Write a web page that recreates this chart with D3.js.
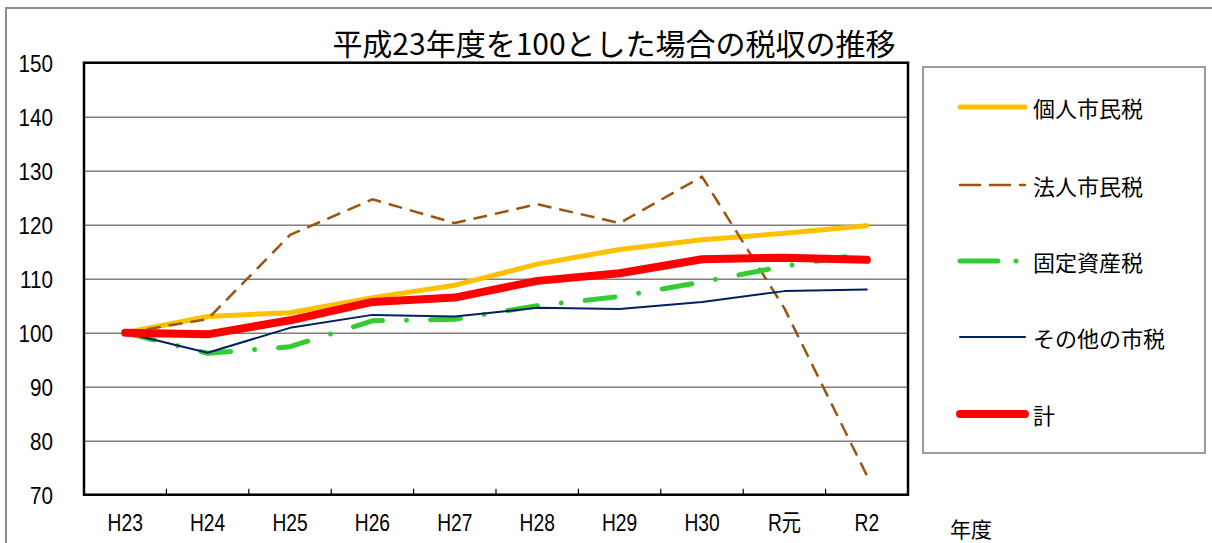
<!DOCTYPE html>
<html>
<head>
<meta charset="utf-8">
<script src="https://cdn.jsdelivr.net/npm/d3@7"></script>
<style>
  body { margin: 0; background: #fff; }
  svg { display: block; }
  .num { font-family: "Liberation Sans", "Noto Sans CJK JP", sans-serif; }
  .jp { font-family: "Noto Sans CJK JP", sans-serif; }
</style>
</head>
<body>
<div id="container"></div>
<script>
// ---------------- data ----------------
const categories = ['H23', 'H24', 'H25', 'H26', 'H27', 'H28', 'H29', 'H30', 'R元', 'R2'];
const kojin  = [100, 103.0, 103.7, 106.5, 108.8, 112.7, 115.4, 117.2, 118.4, 119.8];
const hojin  = [100, 102.5, 118.1, 124.7, 120.3, 123.8, 120.3, 128.9, 104.5, 73.6];
const kotei  = [100, 96.2, 97.4, 102.2, 102.5, 105.0, 106.7, 109.4, 112.3, 114.7];
const sonota = [100, 96.3, 100.9, 103.3, 103.0, 104.6, 104.4, 105.7, 107.7, 108.0];
const total  = [100, 99.7, 102.3, 105.7, 106.5, 109.6, 111.0, 113.6, 113.9, 113.5];
const yTicks = [70, 80, 90, 100, 110, 120, 130, 140, 150];
const seriesNames = ['個人市民税', '法人市民税', '固定資産税', 'その他の市税', '計'];

const width = 1212;
const height = 543;
const plot = { left: 84, right: 908, top: 62.7, bottom: 494.7 };

const svg = d3.select('#container').append('svg')
  .attr('width', width)
  .attr('height', height);

// outer frame (runs off the right and bottom edge)
svg.append('rect')
  .attr('x', 6).attr('y', 8)
  .attr('width', 1400).attr('height', 700)
  .attr('fill', 'none')
  .attr('stroke', '#8c8c8c')
  .attr('stroke-width', 2);

// title
svg.append('text')
  .attr('class', 'jp')
  .attr('x', 614).attr('y', 42)
  .attr('text-anchor', 'middle')
  .attr('dominant-baseline', 'central')
  .style('font-size', '30px')
  .text('平成23年度を100とした場合の税収の推移');

// ---------------- scales ----------------
const x = d3.scaleBand().domain(categories).range([plot.left, plot.right]);
const y = d3.scaleLinear().domain([70, 150]).range([plot.bottom, plot.top]);
const cx = (c) => x(c) + x.bandwidth() / 2;

// gridlines + y labels (narrowed glyphs)
const yAxis = svg.append('g')
  .attr('transform', `translate(${plot.left},0)`)
  .call(d3.axisLeft(y).tickValues(yTicks).tickSize(-(plot.right - plot.left)));
yAxis.select('.domain').remove();
yAxis.selectAll('.tick line').attr('stroke', '#7f7f7f').attr('stroke-width', 1.5);
yAxis.selectAll('.tick text')
  .attr('class', 'num')
  .attr('fill', '#000')
  .attr('x', -31 / 0.86)
  .attr('dy', '0.38em')
  .attr('transform', 'scale(0.86,1)')
  .style('font-size', '24px');

// x labels
const xAxis = svg.append('g')
  .attr('transform', `translate(0,${plot.bottom})`)
  .call(d3.axisBottom(x).tickSize(0).tickPadding(19));
xAxis.select('.domain').remove();
xAxis.selectAll('.tick text')
  .attr('class', 'num')
  .attr('fill', '#000')
  .attr('transform', 'scale(0.8,1)')
  .style('font-size', '24px');

// tick marks between categories, pointing inward
svg.append('g').selectAll('line')
  .data(categories.slice(1))
  .join('line')
  .attr('x1', (d) => x(d)).attr('x2', (d) => x(d))
  .attr('y1', plot.bottom).attr('y2', plot.bottom - 6)
  .attr('stroke', '#000')
  .attr('stroke-width', 1.2);

// plot frame
svg.append('rect')
  .attr('x', plot.left).attr('y', plot.top)
  .attr('width', plot.right - plot.left).attr('height', plot.bottom - plot.top)
  .attr('fill', 'none')
  .attr('stroke', '#000')
  .attr('stroke-width', 2.5);

// ---------------- lines ----------------
const styles = [
  { color: '#ffc000', w: 5, dash: null, cap: 'round' },
  { color: '#9c5410', w: 2.5, dash: '14 8', cap: 'butt' },
  { color: '#33cc33', w: 5, dash: '30 24 0.01 24', cap: 'round' },
  { color: '#002060', w: 2, dash: null, cap: 'round' },
  { color: '#ff0000', w: 8, dash: null, cap: 'round' }
];
const allSeries = [kojin, hojin, kotei, sonota, total];

const line = d3.line()
  .x((d, i) => cx(categories[i]))
  .y((d) => y(d));

allSeries.forEach((vals, k) => {
  const s = styles[k];
  svg.append('path')
    .datum(vals)
    .attr('d', line)
    .attr('fill', 'none')
    .attr('stroke', s.color)
    .attr('stroke-width', s.w)
    .attr('stroke-linejoin', 'round')
    .attr('stroke-linecap', s.cap)
    .attr('stroke-dasharray', s.dash);
});

// ---------------- legend ----------------
svg.append('rect')
  .attr('x', 923).attr('y', 67)
  .attr('width', 282).attr('height', 386)
  .attr('fill', '#fff')
  .attr('stroke', '#595959')
  .attr('stroke-width', 1.2);

const legendY = [107, 185, 261, 337, 414];
const legendDash = [null, '20 10', '38 18 0.01 18', null, null];
seriesNames.forEach((name, k) => {
  const s = styles[k];
  svg.append('line')
    .attr('x1', 960).attr('x2', 1025)
    .attr('y1', legendY[k]).attr('y2', legendY[k])
    .attr('stroke', s.color)
    .attr('stroke-width', s.w)
    .attr('stroke-linecap', 'round')
    .attr('stroke-dasharray', legendDash[k]);
  svg.append('text')
    .attr('class', 'jp')
    .attr('x', 1033).attr('y', legendY[k])
    .attr('dominant-baseline', 'central')
    .style('font-size', '22px')
    .text(name);
});

// x axis unit
svg.append('text')
  .attr('class', 'jp')
  .attr('x', 950).attr('y', 528)
  .attr('dominant-baseline', 'central')
  .style('font-size', '21px')
  .text('年度');
</script>
</body>
</html>
